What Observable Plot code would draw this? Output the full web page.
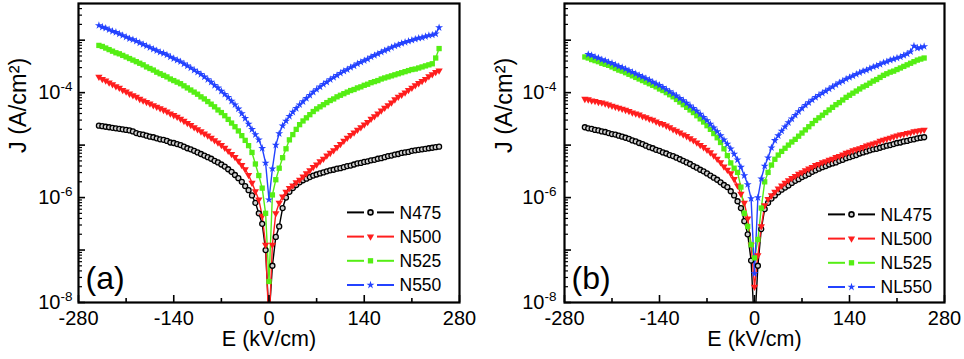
<!DOCTYPE html>
<html><head><meta charset="utf-8">
<script src="https://cdn.jsdelivr.net/npm/d3@7"></script>
<script src="https://cdn.jsdelivr.net/npm/@observablehq/plot@0.6"></script>
<style>
body{margin:0;background:#fff;}
#wrap{display:flex;width:964px;height:359px;overflow:hidden;}
svg{font-family:"Liberation Sans",Arial,Helvetica,sans-serif;}
</style></head><body><div id="wrap"></div>
<script>
// Electric field grid (kV/cm)
const E = [-250,-245,-240,-235,-230,-225,-220,-215,-210,-205,
-200,-195,-190,-185,-180,-175,-170,-165,-160,-155,
-150,-145,-140,-135,-130,-125,-120,-115,-110,-105,
-100,-95,-90,-85,-80,-75,-70,-65,-60,-55,
-50,-45,-40,-35,-30,-25,-20,-15,-10,-5,
0,5,10,15,20,25,30,35,40,45,
50,55,60,65,70,75,80,85,90,95,
100,105,110,115,120,125,130,135,140,145,
150,155,160,165,170,175,180,185,190,195,
200,205,210,215,220,225,230,235,240,245,
250];

// log10 J (A/cm^2)
const a475 = [-4.63,-4.64,-4.65,-4.66,-4.67,-4.68,-4.69,-4.70,-4.71,-4.72,
-4.74,-4.77,-4.79,-4.80,-4.82,-4.84,-4.85,-4.87,-4.89,-4.90,
-4.92,-4.95,-4.96,-4.98,-5.00,-5.03,-5.06,-5.08,-5.11,-5.14,
-5.17,-5.20,-5.23,-5.26,-5.30,-5.33,-5.37,-5.41,-5.46,-5.51,
-5.57,-5.63,-5.70,-5.78,-5.86,-5.96,-6.10,-6.30,-6.50,-7.00,
-8.30,-7.30,-6.75,-6.55,-6.20,-6.00,-5.89,-5.82,-5.76,-5.71,
-5.67,-5.64,-5.61,-5.58,-5.56,-5.54,-5.52,-5.50,-5.48,-5.47,
-5.45,-5.44,-5.42,-5.40,-5.39,-5.37,-5.35,-5.34,-5.32,-5.31,
-5.29,-5.28,-5.26,-5.25,-5.23,-5.21,-5.20,-5.18,-5.17,-5.15,
-5.14,-5.13,-5.11,-5.10,-5.09,-5.08,-5.07,-5.06,-5.05,-5.04,
-5.03];
const a500 = [-3.70,-3.74,-3.77,-3.81,-3.84,-3.88,-3.91,-3.95,-3.98,-4.02,
-4.05,-4.08,-4.12,-4.15,-4.18,-4.21,-4.24,-4.27,-4.30,-4.33,
-4.36,-4.40,-4.43,-4.46,-4.50,-4.54,-4.58,-4.62,-4.66,-4.70,
-4.74,-4.78,-4.82,-4.86,-4.91,-4.95,-5.00,-5.05,-5.11,-5.17,
-5.23,-5.30,-5.38,-5.46,-5.57,-5.72,-5.88,-6.04,-6.35,-6.90,
-8.50,-6.90,-6.30,-6.10,-5.98,-5.89,-5.82,-5.77,-5.71,-5.66,
-5.60,-5.54,-5.48,-5.42,-5.37,-5.31,-5.26,-5.20,-5.15,-5.10,
-5.04,-4.98,-4.92,-4.86,-4.81,-4.76,-4.71,-4.66,-4.61,-4.56,
-4.50,-4.45,-4.40,-4.34,-4.29,-4.24,-4.19,-4.13,-4.08,-4.04,
-4.00,-3.95,-3.91,-3.86,-3.82,-3.78,-3.74,-3.69,-3.65,-3.61,
-3.58];
const a525 = [-3.10,-3.12,-3.15,-3.18,-3.21,-3.24,-3.26,-3.29,-3.32,-3.35,
-3.38,-3.41,-3.44,-3.47,-3.51,-3.54,-3.57,-3.61,-3.64,-3.67,
-3.70,-3.74,-3.77,-3.80,-3.83,-3.87,-3.91,-3.95,-3.99,-4.03,
-4.08,-4.12,-4.17,-4.22,-4.27,-4.33,-4.38,-4.44,-4.51,-4.58,
-4.65,-4.73,-4.82,-4.91,-5.01,-5.14,-5.36,-5.58,-5.82,-6.30,
-7.60,-5.95,-5.66,-5.44,-5.24,-5.07,-4.90,-4.80,-4.70,-4.61,
-4.54,-4.48,-4.42,-4.36,-4.31,-4.27,-4.23,-4.19,-4.15,-4.12,
-4.08,-4.05,-4.02,-3.99,-3.96,-3.94,-3.91,-3.89,-3.86,-3.84,
-3.81,-3.79,-3.77,-3.74,-3.72,-3.70,-3.68,-3.66,-3.64,-3.62,
-3.60,-3.58,-3.56,-3.55,-3.53,-3.51,-3.49,-3.47,-3.45,-3.34,
-3.16];
const a550 = [-2.72,-2.75,-2.77,-2.80,-2.83,-2.85,-2.88,-2.91,-2.94,-2.97,
-2.99,-3.02,-3.05,-3.08,-3.11,-3.14,-3.17,-3.20,-3.23,-3.25,
-3.28,-3.32,-3.35,-3.38,-3.41,-3.45,-3.49,-3.53,-3.57,-3.61,
-3.65,-3.70,-3.75,-3.80,-3.86,-3.91,-3.97,-4.03,-4.09,-4.16,
-4.23,-4.31,-4.40,-4.49,-4.60,-4.70,-4.80,-4.90,-5.06,-5.34,
-6.04,-5.45,-5.00,-4.78,-4.63,-4.54,-4.45,-4.37,-4.30,-4.23,
-4.17,-4.11,-4.05,-3.99,-3.94,-3.89,-3.84,-3.80,-3.75,-3.71,
-3.67,-3.63,-3.59,-3.56,-3.52,-3.49,-3.45,-3.42,-3.39,-3.36,
-3.32,-3.29,-3.26,-3.23,-3.20,-3.17,-3.14,-3.11,-3.09,-3.06,
-3.04,-3.02,-3.00,-2.98,-2.96,-2.95,-2.93,-2.91,-2.90,-2.88,
-2.76];

// log10 J (A/cm^2)
const b475 = [-4.66,-4.68,-4.69,-4.71,-4.72,-4.74,-4.75,-4.77,-4.79,-4.80,
-4.82,-4.84,-4.86,-4.88,-4.91,-4.93,-4.96,-4.98,-5.01,-5.04,
-5.06,-5.09,-5.11,-5.14,-5.16,-5.19,-5.21,-5.24,-5.27,-5.30,
-5.33,-5.36,-5.40,-5.43,-5.47,-5.50,-5.54,-5.58,-5.62,-5.66,
-5.71,-5.76,-5.80,-5.88,-5.96,-6.07,-6.20,-6.45,-6.70,-7.20,
-8.50,-7.30,-6.60,-6.22,-6.10,-6.02,-5.96,-5.90,-5.85,-5.81,
-5.77,-5.72,-5.68,-5.65,-5.61,-5.58,-5.55,-5.51,-5.48,-5.45,
-5.42,-5.40,-5.37,-5.35,-5.33,-5.30,-5.28,-5.25,-5.23,-5.21,
-5.19,-5.16,-5.14,-5.12,-5.10,-5.08,-5.07,-5.05,-5.03,-5.01,
-5.00,-4.98,-4.96,-4.95,-4.93,-4.92,-4.90,-4.89,-4.87,-4.86,
-4.85];
const b500 = [-4.12,-4.13,-4.15,-4.16,-4.18,-4.19,-4.21,-4.23,-4.25,-4.27,
-4.29,-4.31,-4.33,-4.35,-4.38,-4.40,-4.42,-4.45,-4.47,-4.50,
-4.52,-4.55,-4.58,-4.60,-4.63,-4.66,-4.70,-4.73,-4.76,-4.80,
-4.83,-4.87,-4.91,-4.95,-5.00,-5.04,-5.09,-5.14,-5.20,-5.26,
-5.33,-5.41,-5.47,-5.54,-5.65,-5.77,-5.93,-6.10,-6.40,-6.90,
-7.70,-7.10,-6.55,-6.15,-6.03,-5.96,-5.89,-5.83,-5.77,-5.72,
-5.67,-5.63,-5.59,-5.55,-5.52,-5.48,-5.45,-5.42,-5.38,-5.36,
-5.33,-5.31,-5.28,-5.26,-5.23,-5.21,-5.18,-5.15,-5.13,-5.10,
-5.08,-5.06,-5.04,-5.01,-4.99,-4.97,-4.95,-4.92,-4.90,-4.88,
-4.86,-4.84,-4.82,-4.80,-4.79,-4.77,-4.76,-4.74,-4.73,-4.72,
-4.71];
const b525 = [-3.32,-3.34,-3.37,-3.39,-3.41,-3.44,-3.46,-3.48,-3.51,-3.54,
-3.57,-3.59,-3.62,-3.65,-3.68,-3.71,-3.74,-3.77,-3.80,-3.83,
-3.86,-3.89,-3.93,-3.96,-4.00,-4.04,-4.08,-4.13,-4.18,-4.23,
-4.28,-4.33,-4.38,-4.44,-4.50,-4.56,-4.63,-4.70,-4.78,-4.86,
-4.95,-5.07,-5.20,-5.34,-5.44,-5.52,-5.80,-6.30,-6.55,-6.90,
-7.15,-6.80,-6.20,-5.70,-5.52,-5.38,-5.27,-5.19,-5.12,-5.06,
-5.00,-4.94,-4.89,-4.83,-4.77,-4.71,-4.65,-4.59,-4.53,-4.48,
-4.43,-4.38,-4.33,-4.28,-4.23,-4.19,-4.14,-4.09,-4.05,-4.01,
-3.97,-3.93,-3.89,-3.86,-3.82,-3.78,-3.75,-3.71,-3.67,-3.64,
-3.61,-3.59,-3.56,-3.53,-3.50,-3.47,-3.44,-3.41,-3.38,-3.36,
-3.34];
const b550 = [null,-3.27,-3.29,-3.32,-3.34,-3.37,-3.39,-3.42,-3.44,-3.47,
-3.50,-3.52,-3.55,-3.58,-3.61,-3.64,-3.67,-3.70,-3.73,-3.76,
-3.80,-3.83,-3.86,-3.90,-3.94,-3.98,-4.02,-4.06,-4.11,-4.15,
-4.20,-4.25,-4.30,-4.35,-4.41,-4.47,-4.53,-4.60,-4.67,-4.74,
-4.82,-4.90,-4.98,-5.07,-5.17,-5.28,-5.42,-5.58,-5.75,-6.02,
-7.45,-6.00,-5.64,-5.40,-5.24,-5.05,-4.91,-4.82,-4.73,-4.65,
-4.57,-4.50,-4.43,-4.36,-4.30,-4.24,-4.19,-4.14,-4.09,-4.05,
-4.01,-3.97,-3.93,-3.89,-3.85,-3.81,-3.78,-3.74,-3.71,-3.68,
-3.65,-3.62,-3.59,-3.57,-3.54,-3.51,-3.49,-3.46,-3.43,-3.41,
-3.38,-3.36,-3.34,-3.32,-3.29,-3.26,-3.22,-3.11,-3.15,-3.14,
-3.12];

const namesA = ["N475", "N500", "N525", "N550"];
const namesB = ["NL475", "NL500", "NL525", "NL550"];
const xTicks = [-280, -140, 0, 140, 280];
const xMinorTicks = [-210, -70, 70, 210];
const yLabelTicks = [1e-8, 1e-6, 1e-4];
const yDecades = [1e-8, 1e-7, 1e-6, 1e-5, 1e-4, 1e-3];
const xLabel = "E (kV/cm)";
const yLabel = "J (A/cm²)";

const colors = ["#000000", "#ff1e1e", "#55ee14", "#2342ff"];
const symbols = ["circle", "triangle", "square", "star"];
const d3sym = [d3.symbolCircle, d3.symbolTriangle, d3.symbolSquare, d3.symbolStar];
const dotR = [2.5, 2.7, 3.0, 2.5];

const H = 359, MT = 3, MB = 57;
const yMinor = [];
yDecades.forEach(d => { for (let m = 2; m <= 9; m++) { const v = d * m; if (v <= 5e-3) yMinor.push(v); } });

function makePanel(names, series, tag, o) {
  const fw = o.width - o.ml - o.mr, fh = H - MT - MB;
  const rows = [];
  names.forEach((name, k) => series[k].forEach((v, i) => {
    if (v !== null) rows.push({E: E[i], J: Math.pow(10, v), s: k});
  }));
  const marks = [];
  names.forEach((name, k) => marks.push(Plot.line(rows.filter(d => d.s === k),
    {x: "E", y: "J", stroke: colors[k], strokeWidth: 1.4, clip: true})));
  names.forEach((name, k) => {
    const d = rows.filter(r => r.s === k);
    const base = {x: "E", y: "J", clip: true, symbol: symbols[k], r: dotR[k]};
    if (k === 0) marks.push(Plot.dot(d, {...base, fill: "#d0d0d0", stroke: "#000", strokeWidth: 1.3}));
    else if (k === 1) marks.push(Plot.dot(d, {...base, fill: colors[k], rotate: 180}));
    else marks.push(Plot.dot(d, {...base, fill: colors[k]}));
  });
  // ticks pointing inward
  marks.push(Plot.tickY(yMinor, {y: d => d, insetRight: fw - 4, stroke: "#000", strokeWidth: 1.2}));
  marks.push(Plot.tickY(yDecades, {y: d => d, insetRight: fw - 7, stroke: "#000", strokeWidth: 1.6}));
  marks.push(Plot.tickX(xMinorTicks, {x: d => d, insetTop: fh - 4, stroke: "#000", strokeWidth: 1.6}));
  marks.push(Plot.tickX(xTicks, {x: d => d, insetTop: fh - 7, stroke: "#000", strokeWidth: 1.6}));
  marks.push(Plot.frame({stroke: "#000", strokeWidth: 2.2}));
  marks.push(Plot.axisX(xTicks, {anchor: "bottom", label: null, tickSize: 0, tickPadding: 8, fontSize: 20, tickFormat: d => String(d)}));
  marks.push(Plot.axisY(yLabelTicks, {anchor: "left", label: null, tickSize: 0, tickPadding: o.pad, fontSize: 20,
    tickFormat: d => "10|" + Math.round(Math.log10(d))}));
  marks.push(Plot.text([xLabel], {frameAnchor: "bottom", dy: 43, fontSize: 21.5, text: d => d}));
  marks.push(Plot.text([yLabel], {frameAnchor: "left", dx: -60, rotate: -90, fontSize: 23.5, text: d => d}));
  marks.push(Plot.text([tag], {frameAnchor: "bottom-left", dx: 7, dy: -24, fontSize: 32,
    textAnchor: "start", lineAnchor: "middle", text: d => d}));

  const svg = Plot.plot({
    width: o.width, height: H,
    marginLeft: o.ml, marginRight: o.mr, marginTop: MT, marginBottom: MB,
    style: {fontFamily: '"Liberation Sans", Arial, Helvetica, sans-serif', fontSize: "20px", background: "#fff", color: "#000"},
    x: {domain: [-280, 280]},
    y: {type: "log", domain: [1e-8, 5e-3]},
    marks
  });

  const s = d3.select(svg);
  // superscripts on y tick labels
  s.selectAll('g[aria-label="y-axis tick label"] text').each(function () {
    const t = this.textContent;
    if (!t.includes("|")) return;
    const [b, e] = t.split("|");
    this.textContent = "";
    const el = d3.select(this);
    el.append("tspan").text(b);
    el.append("tspan").attr("dy", "-8").attr("font-size", "13.5px").text(e);
  });

  // legend
  const right = o.width - o.mr, bottom = H - MB;
  const g = s.append("g").attr("class", "legend");
  names.forEach((name, k) => {
    const y = bottom - o.lb - (names.length - 1 - k) * 24.2;
    const lx = right - o.lx;
    g.append("line").attr("x1", lx).attr("x2", lx + 17).attr("y1", y).attr("y2", y)
      .attr("stroke", colors[k]).attr("stroke-width", 2);
    g.append("line").attr("x1", lx + 30).attr("x2", lx + 47).attr("y1", y).attr("y2", y)
      .attr("stroke", colors[k]).attr("stroke-width", 2);
    const r = dotR[k];
    const p = g.append("path")
      .attr("d", d3.symbol(d3sym[k], Math.PI * r * r)())
      .attr("transform", `translate(${lx + 23.5},${y})` + (k === 1 ? " rotate(180)" : ""))
      .attr("fill", k === 0 ? "#d0d0d0" : colors[k]);
    if (k === 0) p.attr("stroke", "#000").attr("stroke-width", 1.6);
    g.append("text").attr("x", lx + 52.5).attr("y", y).attr("dy", "0.35em")
      .attr("text-anchor", "start")
      .attr("font-size", "17.5px").attr("fill", "#000").text(name);
  });
  return svg;
}

const wrap = document.getElementById("wrap");
wrap.appendChild(makePanel(namesA, [a475, a500, a525, a550], "(a)", {width: 482, ml: 78, mr: 23, pad: 6, lx: 112, lb: 17}));
wrap.appendChild(makePanel(namesB, [b475, b500, b525, b550], "(b)", {width: 482, ml: 82, mr: 20, pad: 8, lx: 116, lb: 15}));
</script>
</body></html>
